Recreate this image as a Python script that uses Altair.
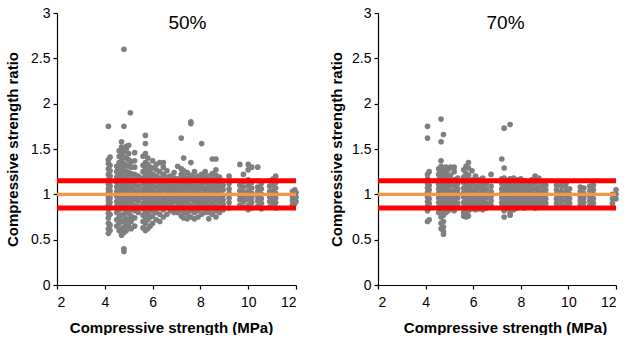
import altair as alt
import pandas as pd

# ---------------- data ----------------
panel_titles = ["50%", "70%"]
ref_lines = [0.85, 1.0, 1.15]
ref_colors = ["#FF0000", "#F79646", "#FF0000"]

x50 = [4.15, 4.22, 4.5, 4.6, 4.7, 4.8, 4.9, 5.0, 5.07, 5.1, 5.25, 5.4, 5.6, 5.7, 5.8, 5.9,
       6.0, 6.15, 6.3, 6.45, 6.6, 6.75, 6.9, 7.05, 7.2, 7.3, 7.45, 7.6, 7.75, 7.9, 8.05,
       8.2, 8.35, 8.5, 8.65, 8.8, 8.95, 9.2, 9.65, 9.8, 10.0, 10.15, 10.4, 10.55, 10.9,
       11.05, 11.15, 11.85, 11.95, 12.0]
y50 = [
    [0.57, 0.62, 0.68, 0.74, 0.79, 0.84, 0.88, 0.93, 0.97, 1.02, 1.06, 1.11, 1.16, 1.22, 1.28, 1.34, 1.38, 1.75],
    [0.6, 0.66, 0.78, 0.86, 0.91, 0.96, 1.0, 1.04, 1.09, 1.14, 1.2, 1.26, 1.32, 1.41],
    [0.65, 0.72, 0.8, 0.87, 0.92, 0.98, 1.03, 1.08, 1.13, 1.19, 1.25, 1.31],
    [0.6, 0.68, 0.75, 0.83, 0.9, 0.95, 1.0, 1.05, 1.1, 1.15, 1.22, 1.29, 1.35, 1.42, 1.48],
    [0.55, 0.62, 0.7, 0.77, 0.85, 0.9, 0.96, 1.01, 1.07, 1.12, 1.18, 1.24, 1.3, 1.37, 1.45, 1.52, 1.58],
    [0.37, 0.4, 0.58, 0.64, 0.71, 0.78, 0.84, 0.89, 0.94, 0.99, 1.04, 1.09, 1.14, 1.2, 1.27, 1.34, 1.41, 1.47, 1.75, 2.6],
    [0.6, 0.67, 0.73, 0.8, 0.87, 0.93, 0.98, 1.03, 1.08, 1.13, 1.19, 1.25, 1.32, 1.4, 1.5, 1.53],
    [0.65, 0.72, 0.79, 0.86, 0.92, 0.97, 1.02, 1.07, 1.12, 1.18, 1.24, 1.31, 1.38, 1.45, 1.54],
    [1.9],
    [0.62, 0.7, 0.76, 0.83, 0.9, 0.95, 1.0, 1.06, 1.11, 1.17, 1.23, 1.3, 1.36],
    [0.65, 0.74, 0.82, 0.88, 0.94, 0.99, 1.04, 1.1, 1.16, 1.22, 1.3, 1.37, 1.46],
    [0.8, 0.87, 0.93, 0.98, 1.03, 1.09, 1.15, 1.2],
    [0.63, 0.7, 0.77, 0.84, 0.9, 0.96, 1.01, 1.06, 1.12, 1.18, 1.25, 1.32, 1.42],
    [0.6, 0.68, 0.74, 0.81, 0.88, 0.93, 0.99, 1.04, 1.09, 1.15, 1.21, 1.28, 1.35, 1.45, 1.56, 1.65],
    [0.62, 0.72, 0.79, 0.86, 0.92, 0.97, 1.02, 1.07, 1.13, 1.19, 1.26, 1.33, 1.4],
    [0.65, 0.75, 0.83, 0.89, 0.95, 1.0, 1.05, 1.11, 1.17, 1.24, 1.3],
    [0.68, 0.76, 0.82, 0.88, 0.93, 0.99, 1.04, 1.1, 1.16, 1.22, 1.29, 1.37],
    [0.72, 0.8, 0.87, 0.92, 0.97, 1.02, 1.08, 1.14, 1.2, 1.27, 1.33],
    [0.7, 0.78, 0.85, 0.9, 0.96, 1.01, 1.06, 1.12, 1.18, 1.25, 1.35],
    [0.75, 0.83, 0.89, 0.94, 0.99, 1.05, 1.1, 1.16, 1.22, 1.3, 1.35],
    [0.78, 0.86, 0.91, 0.97, 1.02, 1.08, 1.13, 1.19, 1.26],
    [0.82, 0.88, 0.93, 0.98, 1.04, 1.09, 1.15, 1.2],
    [0.8, 0.86, 0.92, 0.97, 1.03, 1.08, 1.13, 1.18, 1.24],
    [0.8, 0.86, 0.91, 0.96, 1.01, 1.07, 1.12, 1.17, 1.31],
    [0.76, 0.83, 0.89, 0.94, 1.0, 1.05, 1.1, 1.16, 1.22, 1.28, 1.62],
    [0.74, 0.8, 0.87, 0.93, 0.98, 1.03, 1.09, 1.14, 1.2, 1.26, 1.4],
    [0.73, 0.79, 0.85, 0.91, 0.96, 1.01, 1.07, 1.12, 1.18, 1.24],
    [0.75, 0.82, 0.88, 0.94, 0.99, 1.04, 1.1, 1.15, 1.21, 1.35, 1.78, 1.8],
    [0.73, 0.8, 0.86, 0.92, 0.97, 1.02, 1.08, 1.13, 1.19, 1.25],
    [0.75, 0.82, 0.88, 0.93, 0.99, 1.04, 1.09, 1.15, 1.2],
    [0.78, 0.84, 0.9, 0.95, 1.0, 1.06, 1.11, 1.17, 1.22, 1.56],
    [0.8, 0.86, 0.91, 0.97, 1.02, 1.07, 1.13, 1.19, 1.25],
    [0.73, 0.8, 0.87, 0.93, 0.98, 1.03, 1.09, 1.14, 1.2],
    [0.78, 0.84, 0.9, 0.96, 1.01, 1.06, 1.12, 1.17, 1.23, 1.39],
    [0.75, 0.82, 0.88, 0.94, 0.99, 1.04, 1.1, 1.15, 1.21, 1.27, 1.39],
    [0.8, 0.86, 0.92, 0.97, 1.02, 1.08, 1.13, 1.19],
    [0.83, 0.89, 0.94, 0.99, 1.05, 1.1, 1.15],
    [0.85, 0.91, 0.96, 1.01, 1.06, 1.12, 1.2],
    [0.88, 0.94, 0.99, 1.04, 1.1, 1.33],
    [0.86, 0.92, 0.97, 1.02, 1.08, 1.14, 1.22],
    [0.83, 0.88, 0.94, 0.99, 1.04, 1.1, 1.16, 1.27, 1.33],
    [0.85, 0.91, 0.96, 1.01, 1.07, 1.13, 1.3],
    [0.87, 0.93, 0.98, 1.03, 1.08, 1.15, 1.3],
    [0.84, 0.9, 0.95, 1.0, 1.06, 1.12],
    [0.86, 0.92, 0.97, 1.03, 1.09, 1.15],
    [0.88, 0.93, 0.99, 1.04, 1.1, 1.17],
    [0.85, 0.91, 0.96, 1.01, 1.07, 1.13, 1.2],
    [0.88, 0.93, 0.98, 1.03],
    [0.9, 0.95, 1.0, 1.05],
    [0.92, 0.97, 1.02],
]

x70 = [4.08, 4.15, 4.55, 4.65, 4.75, 4.85, 4.95, 5.05, 5.2, 5.35, 5.6, 5.7, 5.8, 5.95, 6.1,
       6.25, 6.4, 6.55, 6.75, 7.2, 7.3, 7.45, 7.55, 7.7, 7.85, 8.0, 8.15, 8.3, 8.45, 8.6,
       8.75, 8.9, 9.05, 9.5, 9.7, 9.9, 10.05, 10.5, 10.65, 10.9, 11.05, 11.85, 12.0]
y70 = [
    [0.7, 0.82, 0.87, 0.92, 0.97, 1.02, 1.07, 1.12, 1.17, 1.22, 1.62, 1.75],
    [0.72, 0.85, 0.9, 0.95, 1.0, 1.05, 1.1, 1.15, 1.25],
    [0.8, 0.86, 0.91, 0.96, 1.01, 1.06, 1.11, 1.16, 1.22, 1.28],
    [0.62, 0.68, 0.75, 0.82, 0.88, 0.93, 0.98, 1.03, 1.08, 1.13, 1.19, 1.25, 1.31, 1.37, 1.58, 1.83],
    [0.56, 0.59, 0.64, 0.7, 0.77, 0.84, 0.9, 0.95, 1.0, 1.05, 1.1, 1.16, 1.22, 1.29, 1.66],
    [0.8, 0.86, 0.92, 0.97, 1.02, 1.07, 1.12, 1.18, 1.24, 1.3],
    [0.82, 0.87, 0.93, 0.98, 1.03, 1.09, 1.14, 1.2, 1.27],
    [0.84, 0.89, 0.94, 0.99, 1.04, 1.1, 1.15, 1.21, 1.3],
    [0.82, 0.88, 0.93, 0.99, 1.04, 1.1, 1.16, 1.25, 1.3],
    [0.85, 0.9, 0.96, 1.01, 1.06, 1.12, 1.18],
    [0.76, 0.8, 0.86, 0.91, 0.97, 1.02, 1.07, 1.13, 1.19, 1.27],
    [0.75, 0.79, 0.85, 0.9, 0.95, 1.0, 1.06, 1.11, 1.17, 1.23, 1.31],
    [0.76, 0.82, 0.88, 0.93, 0.99, 1.04, 1.09, 1.15, 1.21, 1.29, 1.35],
    [0.84, 0.89, 0.95, 1.0, 1.05, 1.11, 1.16, 1.26],
    [0.83, 0.88, 0.93, 0.99, 1.04, 1.09, 1.15, 1.2],
    [0.84, 0.9, 0.95, 1.0, 1.06, 1.11, 1.16],
    [0.83, 0.88, 0.93, 0.98, 1.03, 1.08, 1.13, 1.18],
    [0.85, 0.9, 0.96, 1.01, 1.06, 1.12],
    [0.88, 0.93, 0.98, 1.03, 1.09, 1.22],
    [0.86, 0.91, 0.96, 1.01, 1.06, 1.12, 1.17, 1.39],
    [0.75, 0.82, 0.87, 0.92, 0.97, 1.02, 1.07, 1.12, 1.18, 1.29, 1.73],
    [0.85, 0.9, 0.95, 1.0, 1.05, 1.1, 1.15],
    [0.77, 0.8, 0.86, 0.91, 0.96, 1.01, 1.06, 1.12, 1.17, 1.77],
    [0.83, 0.88, 0.93, 0.98, 1.04, 1.09, 1.14, 1.18],
    [0.85, 0.9, 0.95, 1.0, 1.05, 1.1, 1.16],
    [0.86, 0.91, 0.96, 1.01, 1.07, 1.12, 1.17],
    [0.85, 0.9, 0.95, 1.0, 1.05, 1.1, 1.15],
    [0.87, 0.92, 0.97, 1.02, 1.08, 1.13],
    [0.86, 0.91, 0.96, 1.01, 1.06, 1.11, 1.16],
    [0.85, 0.9, 0.95, 1.0, 1.06, 1.12, 1.2],
    [0.87, 0.92, 0.97, 1.03, 1.08, 1.14, 1.18],
    [0.88, 0.93, 0.98, 1.03, 1.09, 1.14],
    [0.9, 0.95, 1.0, 1.05, 1.1],
    [0.9, 0.95, 1.0, 1.05, 1.1],
    [0.88, 0.93, 0.98, 1.03, 1.09, 1.14],
    [0.87, 0.92, 0.97, 1.02, 1.07, 1.12],
    [0.9, 0.95, 1.0, 1.06],
    [0.88, 0.93, 0.98, 1.03, 1.08],
    [0.86, 0.91, 0.96, 1.01, 1.07],
    [0.88, 0.93, 0.98, 1.04, 1.09],
    [0.9, 0.95, 1.0, 1.05, 1.1],
    [0.9, 0.95, 1.0],
    [0.95, 1.0, 1.05],
]

FONT = "Liberation Sans"


def expand(xs, ys):
    rows = []
    for xv, col in zip(xs, ys):
        for yv in col:
            rows.append({"x": xv, "y": yv})
    return pd.DataFrame(rows)


def panel(xs, ys, title, title_x, y_title_pad, x_title_x, w):
    pts = expand(xs, ys)
    lines = pd.DataFrame({"y": ref_lines, "c": ref_colors, "x1": [2] * 3, "x2": [12] * 3,
                          "w": [5, 3.3, 5]})
    xscale = alt.Scale(domain=[2, 12], nice=False)
    yscale = alt.Scale(domain=[0, 3], nice=False)
    xaxis = alt.Axis(values=[2, 4, 6, 8, 10, 12], title="Compressive strength (MPa)",
                     grid=False, tickSize=4, labelPadding=6, titlePadding=11,
                     titleX=x_title_x)
    yaxis = alt.Axis(values=[0, 0.5, 1, 1.5, 2, 2.5, 3], format="~g",
                     title="Compressive strength ratio", grid=False, tickSize=4,
                     labelPadding=3, titlePadding=y_title_pad)
    base_pts = alt.Chart(pts).mark_circle(size=32, color="#7f7f7f", opacity=1).encode(
        x=alt.X("x:Q", scale=xscale, axis=xaxis),
        y=alt.Y("y:Q", scale=yscale, axis=yaxis),
    )
    rules = alt.Chart(lines).mark_rule().encode(
        x=alt.X("x1:Q", scale=xscale),
        x2="x2:Q",
        y=alt.Y("y:Q", scale=yscale),
        color=alt.Color("c:N", scale=None),
        strokeWidth=alt.StrokeWidth("w:Q", scale=None),
    )
    txt = alt.Chart(pd.DataFrame({"t": [title], "x": [title_x], "y": [2.89]})).mark_text(
        fontSize=19, font=FONT, color="#000000", baseline="middle", align="center"
    ).encode(x=alt.X("x:Q", scale=xscale), y=alt.Y("y:Q", scale=yscale), text="t:N")
    return alt.layer(base_pts, rules, txt).properties(width=w, height=272)


left = panel(x50, y50, panel_titles[0], 7.46, 10, 114, 239)
right = panel(x70, y70, panel_titles[1], 7.36, 7, 127, 238)

chart = (
    alt.hconcat(left, right, spacing=30)
    .configure(background="white", padding={"left": 5, "top": 6, "right": 0, "bottom": 0})
    .configure_view(stroke=None)
    .configure_axis(
        labelFont=FONT, titleFont=FONT, labelFontSize=14, titleFontSize=15,
        titleFontWeight="bold", labelColor="#000000", titleColor="#000000",
        domainColor="#000000", tickColor="#000000", domainWidth=1.2, tickWidth=1.2,
    )
)

chart.save("out.html", embed_options={"renderer": "svg", "actions": False})
